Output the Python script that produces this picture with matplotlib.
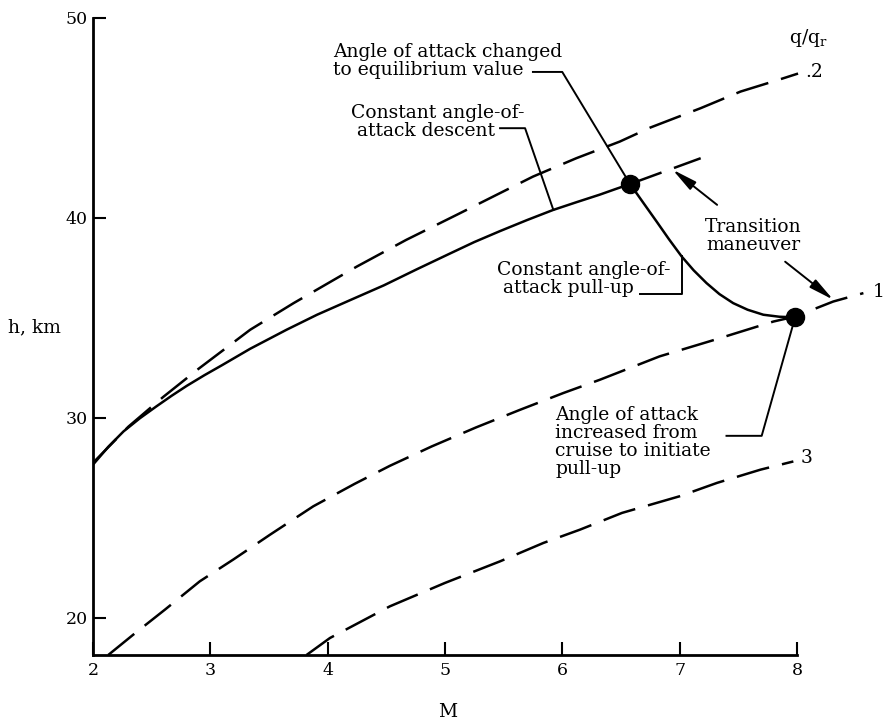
import matplotlib.pyplot as plt

plt.rcParams['font.family'] = 'DejaVu Serif'
plt.rcParams['mathtext.fontset'] = 'dejavuserif'

# q/qr = .2 (dashed)
m_02 = [2.0, 2.3, 2.6, 2.9, 3.34, 3.71, 4.25, 4.67, 5.10, 5.44, 5.75, 6.12,
        6.49, 6.75, 7.18, 7.52, 7.84, 8.01]
h_02 = [27.75, 29.55, 31.05, 32.45, 34.4, 35.73, 37.56, 38.89, 40.14, 41.14,
        42.05, 42.97, 43.8, 44.5, 45.47, 46.3, 46.88, 47.2]

# q/qr = 1 (dashed)
m_1 = [2.13, 2.344, 2.614, 2.91, 3.196, 3.509, 3.878, 4.23, 4.53, 4.887, 5.265,
       5.64, 6.01, 6.32, 6.83, 7.3, 7.8, 7.985, 8.31, 8.567]
h_1 = [18.15, 19.17, 20.42, 21.83, 22.92, 24.16, 25.58, 26.7, 27.6, 28.57, 29.52,
       30.4, 31.24, 31.9, 33.07, 33.9, 34.81, 35.06, 35.81, 36.23]

# q/qr = 3 (dashed)
m_3 = [3.82, 4.02, 4.53, 5.0, 5.47, 5.84, 6.15, 6.51, 7.0, 7.32, 7.69, 7.97]
h_3 = [18.15, 19.0, 20.58, 21.75, 22.83, 23.75, 24.41, 25.25, 26.08, 26.75, 27.41, 27.82]

# constant angle-of-attack descent (solid)
m_desc = [2.0, 2.13, 2.26, 2.4, 2.54, 2.67, 2.8, 2.95, 3.1, 3.34, 3.65, 3.91, 4.2,
          4.48, 4.76, 5.04, 5.25, 5.47, 5.7, 5.92, 6.12, 6.32, 6.45, 6.578]
h_desc = [27.66, 28.55, 29.32, 29.98, 30.57, 31.1, 31.6, 32.13, 32.63, 33.45, 34.4,
          35.15, 35.9, 36.62, 37.42, 38.2, 38.78, 39.33, 39.88, 40.38, 40.77, 41.15,
          41.42, 41.68]

# constant angle-of-attack pull-up continuation (dashed)
m_pull = [6.578, 7.18]
h_pull = [41.68, 42.97]

# transition maneuver (solid)
m_trans = [6.578, 6.69, 6.805, 6.91, 7.018, 7.12, 7.23, 7.34, 7.457, 7.58, 7.714,
           7.85, 7.985]
h_trans = [41.68, 40.75, 39.8, 38.92, 38.06, 37.37, 36.73, 36.18, 35.73, 35.4,
           35.15, 35.05, 35.02]

# key points
m_pts = [6.578, 7.985]
h_pts = [41.68, 35.02]

fig = plt.figure(figsize=(8.84, 7.22), dpi=100)
ax = fig.add_axes([93 / 884, 67 / 722, 786 / 884, 637.5 / 722])
ax.set_xlim(2, 8.7)
ax.set_ylim(18.15, 50)

dash = (13.4, 5.3)
lw = 1.8
ax.plot(m_02, h_02, color='k', lw=lw, dashes=dash)
ax.plot(m_1, h_1, color='k', lw=lw, dashes=dash)
ax.plot(m_3, h_3, color='k', lw=lw, dashes=dash)
ax.plot(m_pull, h_pull, color='k', lw=lw, dashes=dash)
ax.plot(m_desc, h_desc, color='k', lw=lw, solid_joinstyle='round')
ax.plot(m_trans, h_trans, color='k', lw=lw, solid_joinstyle='round')
ax.plot(m_pts, h_pts, 'o', color='k', ms=13)

# leader lines
llw = 1.4
ax.plot([5.75, 6.0, 6.578], [47.28, 47.28, 41.68], color='k', lw=llw)
ax.plot([5.47, 5.683, 5.924], [44.47, 44.47, 40.39], color='k', lw=llw)
ax.plot([6.66, 7.02, 7.02], [36.2, 36.2, 38.06], color='k', lw=llw)
ax.plot([7.40, 7.70, 7.985], [29.1, 29.1, 35.02], color='k', lw=llw)

arrow = dict(arrowstyle='-|>,head_length=0.75,head_width=0.15', color='k', lw=1.4,
             mutation_scale=20, shrinkA=0, shrinkB=0)
ax.annotate('', xy=(6.94, 42.4), xytext=(7.32, 40.64), arrowprops=arrow)
ax.annotate('', xy=(8.31, 35.9), xytext=(7.9, 37.8), arrowprops=arrow)

fs = 13.5
ls = 1.0
ax.text(4.05, 47.82, 'Angle of attack changed\nto equilibrium value', fontsize=fs,
        va='center', ha='left', linespacing=ls)
ax.text(4.2, 44.76, 'Constant angle-of-\n attack descent', fontsize=fs,
        va='center', ha='left', linespacing=ls)
ax.text(5.44, 36.94, 'Constant angle-of-\n attack pull-up', fontsize=fs,
        va='center', ha='left', linespacing=ls)
ax.text(7.63, 39.08, 'Transition\nmaneuver', fontsize=fs, va='center', ha='center',
        linespacing=ls)
ax.text(5.94, 28.78, 'Angle of attack\nincreased from\ncruise to initiate\npull-up',
        fontsize=fs, va='center', ha='left', linespacing=ls)

ax.text(8.1, 48.96, r'q/q$_{\mathrm{r}}$', fontsize=fs, va='center', ha='center')
ax.text(8.07, 47.3, '.2', fontsize=fs, va='center', ha='left')
ax.text(8.65, 36.3, '1', fontsize=fs, va='center', ha='left')
ax.text(8.03, 28.0, '3', fontsize=fs, va='center', ha='left')

ax.set_xticks([2, 3, 4, 5, 6, 7, 8])
ax.set_yticks([20, 30, 40, 50])
ax.tick_params(direction='in', length=9.5, width=1.5, labelsize=12.5, pad=4)
ax.tick_params(axis='x', pad=5)
for s in ['top', 'right']:
    ax.spines[s].set_visible(False)
ax.spines['left'].set_linewidth(2)
ax.spines['bottom'].set_linewidth(2)
ax.spines['left'].set_bounds(18.15, 50)
ax.spines['bottom'].set_bounds(2, 8)

fig.text(8 / 884, 1 - 327 / 722, 'h, km', fontsize=fs, va='center', ha='left')
fig.text(448 / 884, 1 - 712 / 722, 'M', fontsize=fs, va='center', ha='center')

fig.savefig('out.png', dpi=100)
